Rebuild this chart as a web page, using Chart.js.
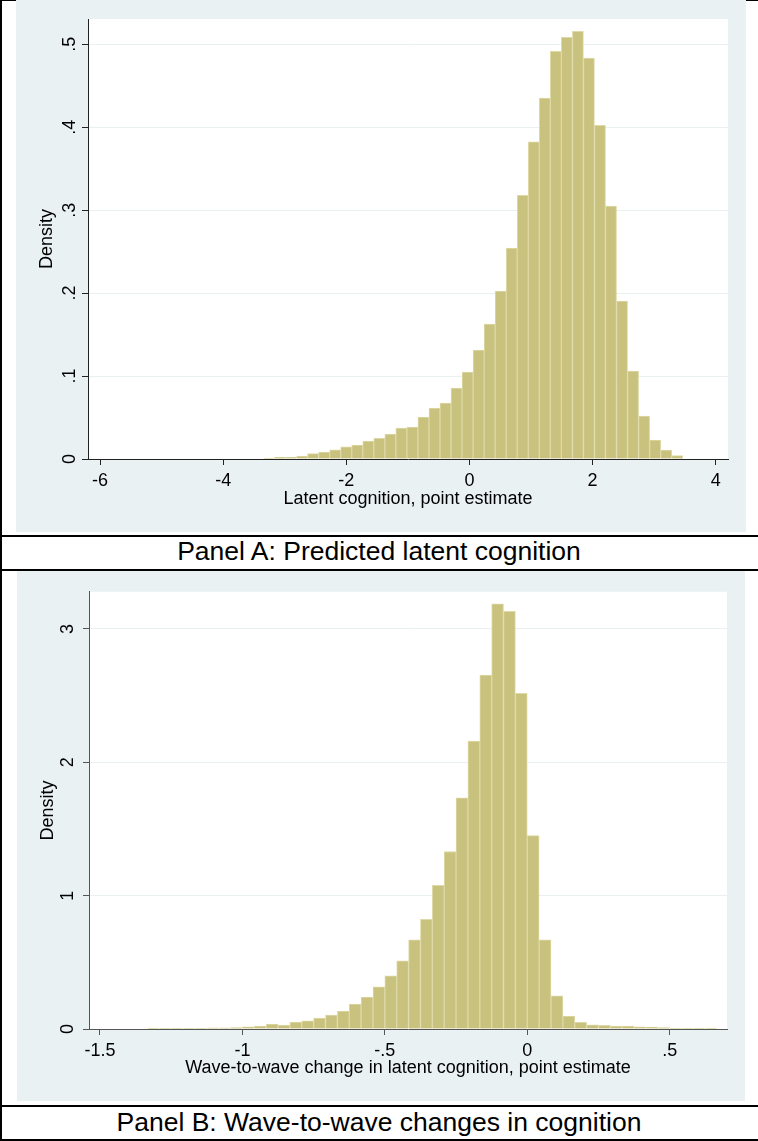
<!DOCTYPE html>
<html>
<head>
<meta charset="utf-8">
<script src="https://cdn.jsdelivr.net/npm/chart.js@4.4.1/dist/chart.umd.min.js"></script>
<style>
body { margin:0; background:#fff; width:758px; height:1141px; position:relative; overflow:hidden;
       font-family:"Liberation Sans", Arial, sans-serif; }
.line { position:absolute; background:#000; }
.bg { position:absolute; background:#eaf1f3; }
.ttl { position:absolute; left:0; width:758px; text-align:center; font-size:26.5px; line-height:26px; color:#000; }
</style>
</head>
<body>
<div class="line" style="left:0;top:0;width:758px;height:1px"></div>
<div class="line" style="left:0;top:0;width:2px;height:1141px"></div>
<div class="line" style="left:0;top:535px;width:758px;height:2px"></div>
<div class="line" style="left:0;top:569px;width:758px;height:2px"></div>
<div class="line" style="left:0;top:1105px;width:758px;height:2px"></div>
<div class="line" style="left:0;top:1139px;width:758px;height:2px"></div>

<div class="bg" style="left:16px;top:0;width:730px;height:532px"><canvas id="chartA" width="730" height="532"></canvas></div>
<div class="ttl" style="top:538px">Panel A: Predicted latent cognition</div>

<div class="bg" style="left:17px;top:571px;width:728px;height:530px"><canvas id="chartB" width="728" height="530"></canvas></div>
<div class="ttl" style="top:1109px">Panel B: Wave-to-wave changes in cognition</div>

<script>
// Panel A: latent cognition (bin midpoints and densities)
var binsA = [-3.2554,-3.0762,-2.8970,-2.7178,-2.5386,-2.3594,-2.1802,-2.0010,-1.8218,-1.6426,
             -1.4634,-1.2842,-1.1050,-0.9258,-0.7466,-0.5674,-0.3882,-0.2090,-0.0298,0.1494,
             0.3286,0.5078,0.6870,0.8662,1.0454,1.2246,1.4038,1.5830,1.7622,1.9414,
             2.1206,2.2998,2.4790,2.6582,2.8374,3.0166,3.1958,3.3750];
var densA = [0.0012,0.002,0.0024,0.0035,0.0064,0.0084,0.011,0.0147,0.0169,0.0217,
             0.025,0.030,0.0373,0.0386,0.0506,0.0614,0.0675,0.0855,0.1048,0.1313,
             0.1627,0.2024,0.2542,0.318,0.3823,0.4353,0.4916,0.5084,0.5157,0.4835,
             0.4024,0.3048,0.1904,0.106,0.0518,0.0229,0.0108,0.004];
var xTicksA = [-6,-4,-2,0,2,4];
var xLabelsA = ['-6','-4','-2','0','2','4'];
var yTicksA = [0,0.1,0.2,0.3,0.4,0.5];
var yLabelsA = ['0','.1','.2','.3','.4','.5'];

// Panel B: wave-to-wave change
var binsB = [-1.3125,-1.2708,-1.2292,-1.1875,-1.1458,-1.1042,-1.0625,-1.0208,-0.9792,-0.9375,
             -0.8958,-0.8542,-0.8125,-0.7708,-0.7292,-0.6875,-0.6458,-0.6042,-0.5625,-0.5208,
             -0.4792,-0.4375,-0.3958,-0.3542,-0.3125,-0.2708,-0.2292,-0.1875,-0.1458,-0.1042,
             -0.0625,-0.0208,0.0208,0.0625,0.1042,0.1458,0.1875,0.2292,0.2708,0.3125,
             0.3542,0.3958,0.4375,0.4792,0.5208,0.5625,0.6042,0.6458];
var densB = [0.003,0.003,0.003,0.003,0.003,0.008,0.008,0.010,0.017,0.022,
             0.037,0.030,0.052,0.062,0.082,0.104,0.134,0.187,0.239,0.316,
             0.398,0.512,0.669,0.823,1.077,1.331,1.734,2.159,2.654,3.189,
             3.132,2.517,1.450,0.669,0.249,0.097,0.050,0.032,0.027,0.022,
             0.022,0.017,0.015,0.010,0.007,0.007,0.006,0.005];
var xTicksB = [-1.5,-1,-0.5,0,0.5];
var xLabelsB = ['-1.5','-1','-.5','0','.5'];
var yTicksB = [0,1,2,3];
var yLabelsB = ['0','1','2','3'];

Chart.defaults.font.family = '"Liberation Sans", Arial, sans-serif';
Chart.defaults.color = '#000';

var plotBg = {
  id: 'plotBg',
  beforeDraw: function(chart) {
    var a = chart.chartArea, ctx = chart.ctx;
    ctx.save();
    ctx.fillStyle = '#fff';
    ctx.fillRect(a.left, a.top, a.right - a.left, a.bottom - a.top);
    ctx.restore();
  }
};

function histogram(id, bins, dens, o) {
  var ctx = document.getElementById(id).getContext('2d');
  return new Chart(ctx, {
    type: 'bar',
    data: {
      datasets: [{
        data: bins.map(function(x, i) { return {x: x, y: dens[i]}; }),
        backgroundColor: 'rgb(201,194,126)',
        borderColor: 'rgb(222,217,166)',
        borderWidth: 1,
        barPercentage: 1,
        categoryPercentage: 1
      }]
    },
    options: {
      responsive: false,
      animation: false,
      devicePixelRatio: 1,
      layout: { padding: { left: 0, right: o.padRight, top: o.padTop, bottom: 0 } },
      plugins: { legend: { display: false }, tooltip: { enabled: false } },
      scales: {
        x: {
          type: 'linear', min: o.xMin, max: o.xMax, offset: false, z: 1,
          afterBuildTicks: function(s) { s.ticks = o.xTicks.map(function(v) { return {value: v}; }); },
          afterFit: function(s) { s.height = o.xHeight; },
          grid: { offset: false, drawOnChartArea: false, drawTicks: true, tickLength: 6, tickColor: o.axisColor },
          border: { display: true, color: o.axisColor, width: 1 },
          ticks: { autoSkip: false, maxRotation: 0, padding: 5, font: { size: 18 },
                   callback: function(v, i) { return o.xLabels[i]; } },
          title: { display: true, text: o.xTitle, font: { size: 18 }, padding: { top: 0, bottom: 22 } }
        },
        y: {
          type: 'linear', min: 0, max: o.yMax,
          afterBuildTicks: function(s) { s.ticks = o.yTicks.map(function(v) { return {value: v}; }); },
          afterFit: function(s) { s.width = 72; },
          grid: {
            color: function(c) { return c.tick && c.tick.value === 0 ? 'rgba(0,0,0,0)' : '#e8f0f2'; },
            lineWidth: 1, drawTicks: true, tickLength: 6, tickColor: o.axisColor
          },
          border: { display: true, color: o.axisColor, width: 1 },
          ticks: { minRotation: 90, maxRotation: 90, crossAlign: 'center', padding: o.yPad, font: { size: 18 },
                   callback: function(v, i) { return o.yLabels[i]; } },
          title: { display: true, text: 'Density', font: { size: 18 }, padding: { top: 20, bottom: 0 } }
        }
      }
    },
    plugins: [plotBg]
  });
}

histogram('chartA', binsA, densA, {
  xMin: -6.195, xMax: 4.2, yMax: 0.5305,
  xTicks: xTicksA, xLabels: xLabelsA, yTicks: yTicksA, yLabels: yLabelsA,
  xTitle: 'Latent cognition, point estimate',
  padTop: 19, padRight: 18, xHeight: 73, yPad: 4, axisColor: '#222'
});

histogram('chartB', binsB, densB, {
  xMin: -1.5386, xMax: 0.7012, yMax: 3.279,
  xTicks: xTicksB, xLabels: xLabelsB, yTicks: yTicksB, yLabels: yLabelsB,
  xTitle: 'Wave-to-wave change in latent cognition, point estimate',
  padTop: 18, padRight: 18, xHeight: 72, yPad: 10, axisColor: '#555'
});
</script>
</body>
</html>
